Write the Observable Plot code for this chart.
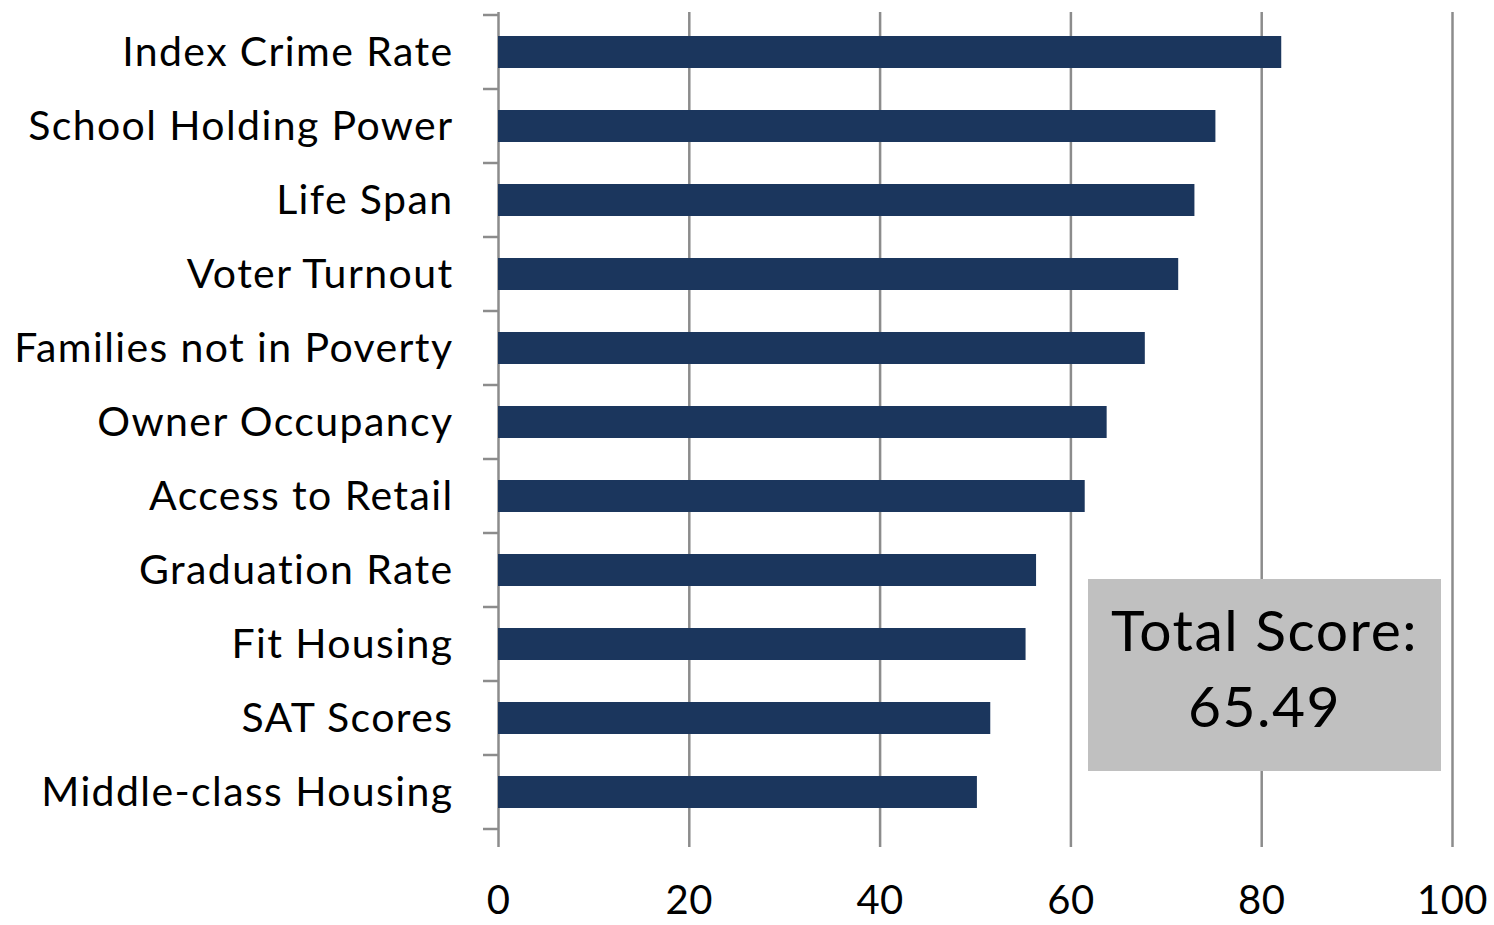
<!DOCTYPE html>
<html>
<head>
<meta charset="utf-8">
<script src="https://cdn.jsdelivr.net/npm/d3@7"></script>
<script src="https://cdn.jsdelivr.net/npm/@observablehq/plot@0.6"></script>
<style>
  html, body { margin: 0; padding: 0; background: #fff; }
  #wrap { position: relative; width: 1494px; height: 925px; }
  #box {
    position: absolute; left: 1088px; top: 579px; width: 353px; height: 192px;
    background: #c0c0c0; font-family: Lato, "Open Sans", sans-serif; font-size: 57px;
    letter-spacing: 1.5px;
    color: #000; text-align: center; line-height: 76px; box-sizing: border-box; padding-top: 12px;
  }
  g[aria-label="y-axis tick label"] text { letter-spacing: 1.4px; }
  g[aria-label="x-axis tick label"] text { letter-spacing: 0.5px; }
</style>
</head>
<body>
<div id="wrap"><div id="chart"></div><div id="box"><div>Total Score:</div><div>65.49</div></div></div>
<script>
const categories = [
  "Index Crime Rate", "School Holding Power", "Life Span", "Voter Turnout",
  "Families not in Poverty", "Owner Occupancy", "Access to Retail",
  "Graduation Rate", "Fit Housing", "SAT Scores", "Middle-class Housing"
];
const values = [82.1, 75.2, 73.0, 71.3, 67.8, 63.8, 61.5, 56.4, 55.3, 51.6, 50.2];
const xTicks = [0, 20, 40, 60, 80, 100];

const data = categories.map((c, i) => ({category: c, value: values[i]}));
const gridColor = "#8c8c8c";

// boundary ticks on the category axis (between bands)
function bandBoundaryTicks(index, scales) {
  const y = scales.y, x = scales.x;
  const bw = y.bandwidth();
  const step = y.step ? y.step() : bw / (1 - 0.57);
  const g = d3.create("svg:g");
  const x0 = x(0);
  const ys = categories.map(c => y(c) - (step - bw) / 2);
  ys.push(y(categories[categories.length - 1]) + bw + (step - bw) / 2);
  g.selectAll("line").data(ys).join("line")
    .attr("x1", x0 - 15).attr("x2", x0)
    .attr("y1", d => d).attr("y2", d => d)
    .attr("stroke", gridColor).attr("stroke-width", 2.5);
  return g.node();
}

const chart = Plot.plot({
  width: 1494,
  height: 925,
  marginLeft: 498,
  marginRight: 42,
  marginTop: 12,
  marginBottom: 94,
  style: {fontFamily: "Lato, 'Open Sans', sans-serif", background: "#fff", color: "#000"},
  x: {domain: [0, 100], ticks: xTicks},
  y: {domain: categories, paddingInner: 0.57, paddingOuter: 0.285},
  marks: [
    Plot.ruleX(xTicks, {stroke: gridColor, strokeWidth: 2.5}),
    Plot.barX(data, {x: "value", y: "category", fill: "#1b365d"}),
    Plot.ruleY([0], {frameAnchor: "bottom", x1: -2, x2: 100, stroke: gridColor, strokeWidth: 2.5}),
    bandBoundaryTicks,
    Plot.axisX({ticks: xTicks, tickSize: 16, tickPadding: 38, fontSize: 40, stroke: gridColor, strokeWidth: 2.5, tickFormat: d => String(d), label: null}),
    Plot.axisY({tickSize: 0, tickPadding: 45, fontSize: 41, label: null})
  ]
});
document.getElementById("chart").appendChild(chart);
</script>
</body>
</html>
